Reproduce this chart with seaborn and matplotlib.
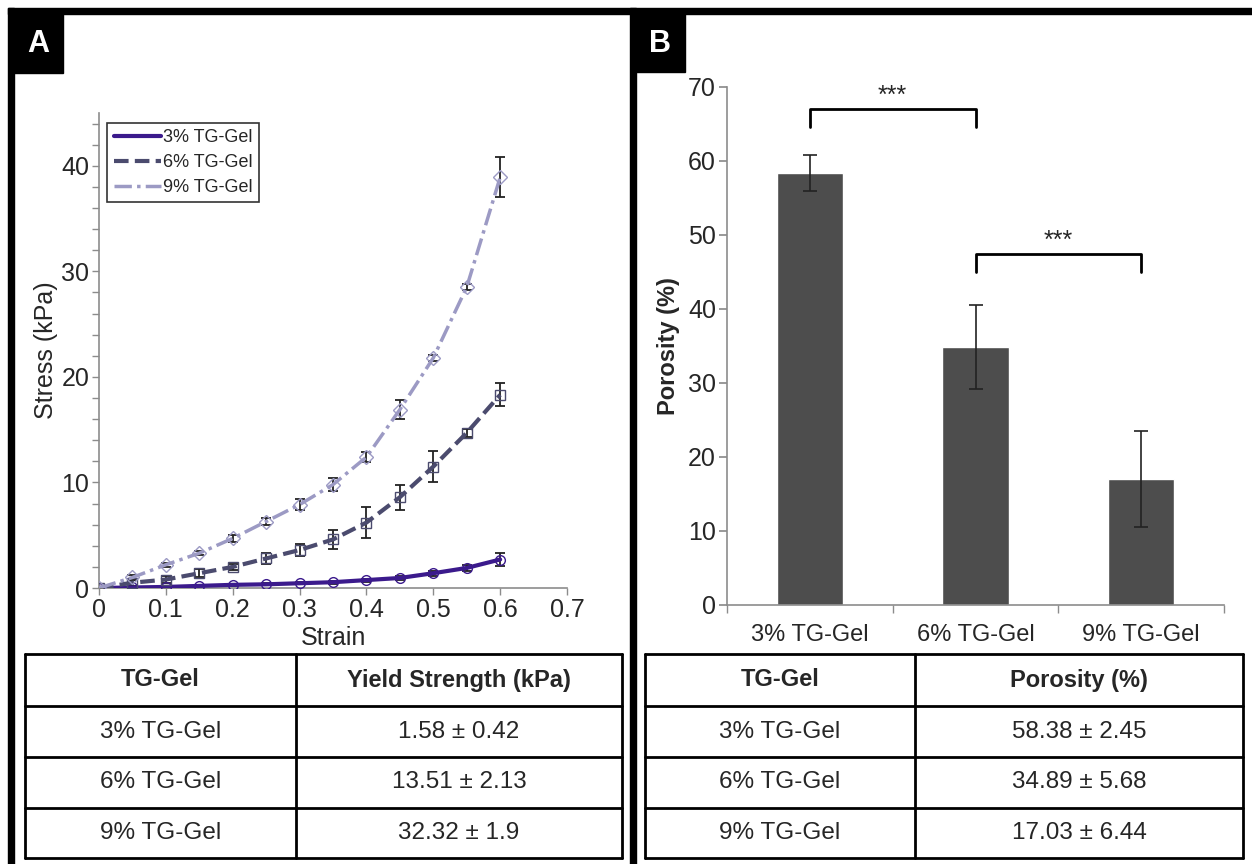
import matplotlib.pyplot as plt
import seaborn as sns
import numpy as np
import pandas as pd
from matplotlib.patches import Rectangle

# ---- data ----
strain = [0, 0.05, 0.1, 0.15, 0.2, 0.25, 0.3, 0.35, 0.4, 0.45, 0.5, 0.55, 0.6]
stress_3 = [0, 0.05, 0.1, 0.2, 0.3, 0.35, 0.45, 0.55, 0.75, 0.95, 1.4, 1.9, 2.7]
err_3 = [0, 0.1, 0.1, 0.1, 0.1, 0.1, 0.1, 0.15, 0.15, 0.2, 0.25, 0.3, 0.6]
stress_6 = [0, 0.5, 0.8, 1.4, 2.0, 2.8, 3.6, 4.6, 6.2, 8.6, 11.5, 14.7, 18.3]
err_6 = [0, 0.3, 0.3, 0.4, 0.3, 0.5, 0.6, 0.9, 1.5, 1.2, 1.5, 0.4, 1.1]
stress_9 = [0, 1.0, 2.2, 3.3, 4.7, 6.3, 7.9, 9.8, 12.4, 16.9, 21.8, 28.5, 38.9]
err_9 = [0, 0.2, 0.2, 0.2, 0.3, 0.3, 0.5, 0.6, 0.5, 0.9, 0.3, 0.3, 1.9]
series_names = ["3% TG-Gel", "6% TG-Gel", "9% TG-Gel"]

groups = ["3% TG-Gel", "6% TG-Gel", "9% TG-Gel"]
porosity = [58.38, 34.89, 17.03]
porosity_sd = [2.45, 5.68, 6.44]

yield_rows = [["3% TG-Gel", "1.58 ± 0.42"],
              ["6% TG-Gel", "13.51 ± 2.13"],
              ["9% TG-Gel", "32.32 ± 1.9"]]
porosity_rows = [["3% TG-Gel", "58.38 ± 2.45"],
                 ["6% TG-Gel", "34.89 ± 5.68"],
                 ["9% TG-Gel", "17.03 ± 6.44"]]

sns.set_theme(style="white")
plt.rcParams['font.family'] = ['Liberation Sans', 'DejaVu Sans']

W, H = 1252, 864
fig = plt.figure(figsize=(W / 100, H / 100), dpi=100)


def rect(l, t, r, b):
    return [l / W, 1 - b / H, (r - l) / W, (b - t) / H]


# ---- frame overlay ----
bg = fig.add_axes([0, 0, 1, 1], zorder=-5)
bg.set_xlim(0, W)
bg.set_ylim(H, 0)
bg.axis('off')
for x0, y0, w, h in [(8, 8, 1244, 6), (8, 8, 6, 856), (630, 8, 6, 856),
                     (13, 13, 50, 60), (636, 13, 49, 59)]:
    bg.add_patch(Rectangle((x0, y0), w, h, color='black'))
bg.text(38, 44, "A", color='white', fontsize=22, fontweight='bold', ha='center', va='center')
bg.text(660, 44, "B", color='white', fontsize=22, fontweight='bold', ha='center', va='center')

# ---- panel A: stress-strain ----
axA = fig.add_axes(rect(99, 113, 567, 588))
gray = '#8c8c8c'
line_specs = [
    (stress_3, err_3, '#3b1a8c', '-', 'o', 3.0),
    (stress_6, err_6, '#4b4b6e', (0, (3.5, 1.5)), 's', 3.0),
    (stress_9, err_9, '#9c9ac4', (0, (5, 1.5, 1, 1.5)), 'D', 2.5),
]
for name, (y, e, c, ls, mk, lw) in zip(series_names, line_specs):
    df = pd.DataFrame({"Strain": strain, "Stress": y})
    axA.errorbar(strain, y, yerr=e, fmt='none', ecolor='#222222', elinewidth=1.3,
                 capsize=3.5, capthick=1.3, zorder=2)
    sns.lineplot(data=df, x="Strain", y="Stress", ax=axA, color=c, lw=lw,
                 marker=mk, markersize=7, markerfacecolor='none', markeredgecolor=c,
                 markeredgewidth=1.0, label=name, zorder=3)
    axA.lines[-1].set_linestyle(ls)

axA.set_xlim(0, 0.7)
axA.set_ylim(0, 45)
axA.set_xticks(np.arange(0, 0.71, 0.1))
axA.set_xticklabels(["0", "0.1", "0.2", "0.3", "0.4", "0.5", "0.6", "0.7"])
axA.set_yticks(np.arange(0, 45, 2))
axA.set_yticklabels([str(v) if v % 10 == 0 else "" for v in range(0, 45, 2)])
axA.tick_params(axis='both', direction='out', length=5, width=1, color=gray,
                labelsize=18, pad=2, left=True, bottom=True)
for s in ['top', 'right']:
    axA.spines[s].set_visible(False)
for s in ['left', 'bottom']:
    axA.spines[s].set_color(gray)
    axA.spines[s].set_linewidth(1.2)
axA.set_xlabel("Strain", fontsize=18, labelpad=3)
axA.set_ylabel("Stress (kPa)", fontsize=18, labelpad=2)
leg = axA.legend(loc='upper left', bbox_to_anchor=(0.018, 0.98), fontsize=13,
                 frameon=True, fancybox=False, edgecolor='black', handlelength=2.6,
                 handletextpad=0.15, borderpad=0.35, labelspacing=0.45, borderaxespad=0)
leg.get_frame().set_linewidth(1.2)
for h in leg.legend_handles:
    h.set_marker('')

# ---- panel B: porosity bars ----
axB = fig.add_axes(rect(727, 87, 1224, 605))
dfB = pd.DataFrame({"group": groups, "porosity": porosity})
sns.barplot(data=dfB, x="group", y="porosity", ax=axB, color='#4d4d4d',
            saturation=1, width=0.4, errorbar=None)
axB.errorbar(range(3), porosity, yerr=porosity_sd, fmt='none', ecolor='#222222',
             elinewidth=1.2, capsize=5, capthick=1.2)
axB.set_xlim(-0.5, 2.5)
axB.set_ylim(0, 70)
axB.set_yticks(range(0, 71, 10))
axB.set_xticks([-0.5, 0.5, 1.5, 2.5], minor=True)
axB.tick_params(axis='x', which='major', length=0, labelsize=17, pad=14)
axB.tick_params(axis='x', which='minor', direction='out', length=6, color=gray, bottom=True)
axB.tick_params(axis='y', direction='out', length=6, color=gray, labelsize=18, left=True, pad=2)
for s in ['top', 'right']:
    axB.spines[s].set_visible(False)
for s in ['left', 'bottom']:
    axB.spines[s].set_color(gray)
    axB.spines[s].set_linewidth(1.2)
axB.set_xlabel("")
axB.set_ylabel("Porosity (%)", fontsize=17, fontweight='bold', labelpad=6)

# significance brackets
for (i, j, yb, yl) in [(0, 1, 67.0, 64.6), (1, 2, 47.4, 45.0)]:
    axB.plot([i, i, j, j], [yl, yb, yb, yl], color='black', lw=2)
    axB.text((i + j) / 2, yb + 0.2, "***", ha='center', va='bottom', fontsize=18)


# ---- tables ----
def draw_table(l, r, split, header, rows):
    ax = fig.add_axes(rect(l, 654, r, 858))
    ax.set_xlim(l, r)
    ax.set_ylim(858, 654)
    ax.axis('off')
    ys = [654, 706, 757, 808, 858]
    for y in ys:
        ax.plot([l, r], [y, y], color='black', lw=2, clip_on=False)
    for x in [l, split, r]:
        ax.plot([x, x], [654, 858], color='black', lw=2, clip_on=False)
    cx = [(l + split) / 2, (split + r) / 2]
    for k, txt in enumerate(header):
        ax.text(cx[k], (ys[0] + ys[1]) / 2, txt, ha='center', va='center',
                fontsize=17, fontweight='bold')
    for n, row in enumerate(rows):
        for k, txt in enumerate(row):
            ax.text(cx[k], (ys[n + 1] + ys[n + 2]) / 2, txt, ha='center',
                    va='center', fontsize=17.5)


draw_table(25, 622, 296, ["TG-Gel", "Yield Strength (kPa)"], yield_rows)
draw_table(645, 1243, 915, ["TG-Gel", "Porosity (%)"], porosity_rows)

fig.savefig("out.png", dpi=100)
